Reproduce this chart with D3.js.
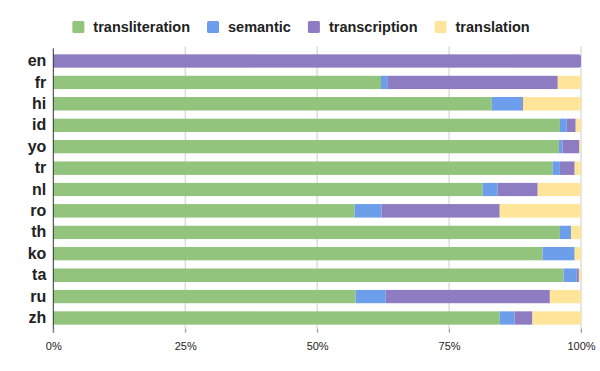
<!DOCTYPE html>
<meta charset="utf-8">
<style>
  body { margin: 0; background: #fff; }
  text { font-family: 'Liberation Sans', Arial, sans-serif; }
</style>
<body>
<script src="https://d3js.org/d3.v7.min.js"></script>
<script>
// categories and series (percent of each row)
var langs = ["en", "fr", "hi", "id", "yo", "tr", "nl", "ro", "th", "ko", "ta", "ru", "zh"];
var keys = ["transliteration", "semantic", "transcription", "translation"];
var transliteration = [0, 62.1, 83.1, 96.0, 95.8, 94.6, 81.4, 57.1, 96.0, 92.7, 96.7, 57.3, 84.6];
var semantic        = [0, 1.3, 5.7, 1.3, 0.7, 1.4, 2.8, 5.1, 2.1, 6.1, 2.5, 5.7, 2.8];
var transcription   = [100, 32.2, 0.2, 1.7, 3.2, 2.8, 7.6, 22.4, 0, 0, 0.4, 31.1, 3.4];
var translation     = [0, 4.4, 11.0, 1.0, 0.3, 1.2, 8.2, 15.4, 1.9, 1.2, 0.4, 5.9, 9.2];
var colors = ["#93c47d", "#6d9eeb", "#8e7cc3", "#ffe599"];
var xTicks = [0, 0.25, 0.5, 0.75, 1];

var rows = langs.map(function (l, i) {
  return { lang: l, transliteration: transliteration[i], semantic: semantic[i],
           transcription: transcription[i], translation: translation[i] };
});

var W = 600, H = 371;
var margin = { top: 50.3, right: 19, bottom: 42.3, left: 53.3 };
var width = W - margin.left - margin.right,
    height = H - margin.top - margin.bottom;

var svg = d3.select("body").append("svg")
  .attr("width", W).attr("height", H);
var g = svg.append("g")
  .attr("transform", "translate(" + margin.left + "," + margin.top + ")");

var x = d3.scaleLinear().domain([0, 1]).range([0, width]);
var y = d3.scaleBand().domain(langs).range([0, height]).paddingInner(0.36).paddingOuter(0.18);

var stack = d3.stack().keys(keys).offset(d3.stackOffsetExpand);
var series = stack(rows);

// gridlines
g.append("g").selectAll("line")
  .data(xTicks.slice(1))
  .join("line")
  .attr("x1", d => x(d)).attr("x2", d => x(d))
  .attr("y1", -4).attr("y2", height + 4)
  .attr("stroke", "#cccccc").attr("stroke-width", 1);

// clip per row for rounded right end
var defs = svg.append("defs");
langs.forEach(function (l, i) {
  defs.append("clipPath").attr("id", "clip" + i)
    .append("rect")
    .attr("x", x(0) - 6).attr("y", y(l))
    .attr("width", x(1) - x(0) + 6).attr("height", y.bandwidth())
    .attr("rx", 2.5);
});

g.append("g").selectAll("g")
  .data(series)
  .join("g")
  .attr("fill", (d, i) => colors[i])
  .selectAll("rect")
  .data(d => d)
  .join("rect")
  .attr("clip-path", d => "url(#clip" + langs.indexOf(d.data.lang) + ")")
  .attr("x", d => x(d[0]))
  .attr("y", d => y(d.data.lang))
  .attr("width", d => Math.max(0, x(d[1]) - x(d[0])))
  .attr("height", y.bandwidth());

// left axis
var yAxis = g.append("g").call(d3.axisLeft(y).tickSize(0).tickPadding(7));
yAxis.select(".domain").remove();
yAxis.selectAll("text")
  .attr("font-size", 16).attr("font-weight", "bold").attr("fill", "#222")
  .attr("font-family", "'Liberation Sans', Arial, sans-serif");
g.append("line")
  .attr("x1", 0).attr("x2", 0).attr("y1", -2).attr("y2", height + 4)
  .attr("stroke", "#333").attr("stroke-width", 1);

// bottom axis
var xAxis = g.append("g")
  .attr("transform", "translate(0," + height + ")")
  .call(d3.axisBottom(x).tickValues(xTicks).tickFormat(d3.format(".0%")).tickSize(4).tickPadding(10));
xAxis.select(".domain").remove();
xAxis.selectAll(".tick line").attr("stroke", "#999");
xAxis.selectAll("text")
  .attr("font-size", 11).attr("fill", "#222")
  .attr("font-family", "'Liberation Sans', Arial, sans-serif");

// legend
var legend = svg.append("g");
var lx = 0;
keys.forEach(function (k, i) {
  var item = legend.append("g").attr("transform", "translate(" + lx + ",0)");
  item.append("rect").attr("x", 0).attr("y", 21).attr("width", 12).attr("height", 12)
    .attr("rx", 1.5).attr("fill", colors[i]);
  var t = item.append("text").attr("x", 21).attr("y", 32)
    .attr("font-size", 14.5).attr("font-weight", "bold").attr("fill", "#222").text(k);
  lx += 21 + t.node().getComputedTextLength() + 17;
});
lx -= 17;
legend.attr("transform", "translate(" + (W / 2 - lx / 2 + 1) + ",0)");
</script>
</body>
